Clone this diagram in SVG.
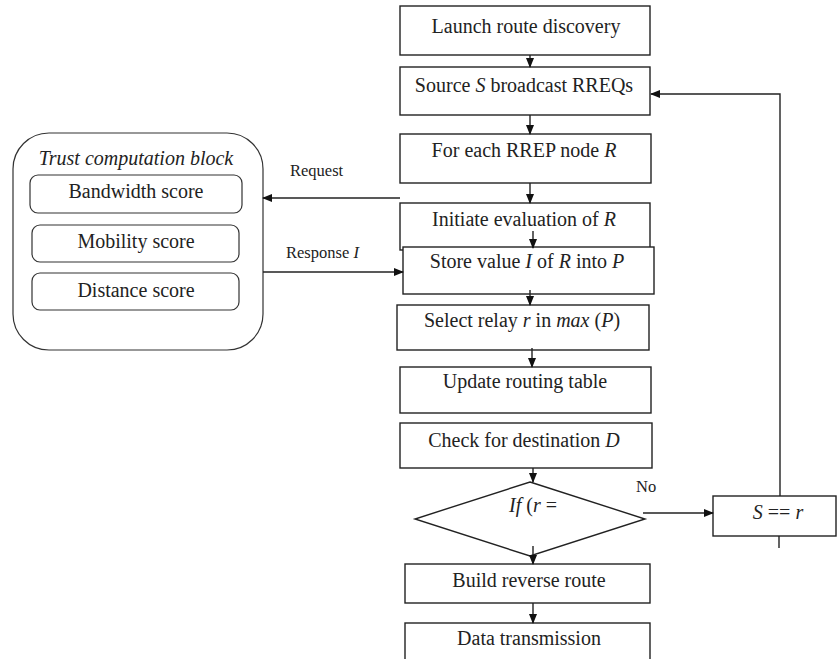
<svg xmlns="http://www.w3.org/2000/svg" width="837" height="659" viewBox="0 0 837 659">
<style>
.b{fill:#fff;stroke:#222;stroke-width:1.4}
.r{fill:#fff;stroke:#333;stroke-width:1.2}
.t{font-family:"Liberation Serif",serif;font-size:20px;fill:#222;text-anchor:middle}
.s{font-family:"Liberation Serif",serif;font-size:16.5px;fill:#222}
.i{font-style:italic}
.c{fill:none;stroke:#222;stroke-width:1.4}
</style>
<defs>
<marker id="a" markerWidth="10" markerHeight="10" refX="9" refY="5" orient="auto" markerUnits="userSpaceOnUse">
<path d="M0,1 L10,5 L0,9 Z" fill="#111"/>
</marker>
</defs>
<rect width="837" height="659" fill="#fff"/>
<g id="trust-block">
<rect class="r" x="13" y="133" width="250" height="217" rx="36"/>
<text class="t i" x="136" y="165">Trust computation block</text>
</g>
<g id="bandwidth"><rect class="r" x="30" y="175" width="212" height="38" rx="8"/><text class="t" x="136" y="198">Bandwidth score</text></g>
<g id="mobility"><rect class="r" x="32" y="225" width="207" height="37" rx="8"/><text class="t" x="136" y="248">Mobility score</text></g>
<g id="distance"><rect class="r" x="32" y="273" width="207" height="37" rx="8"/><text class="t" x="136" y="297">Distance score</text></g>

<g id="launch"><rect class="b" x="400" y="6" width="250" height="49"/><text class="t" x="526" y="33">Launch route discovery</text></g>
<g id="source"><rect class="b" x="400" y="67" width="250" height="48"/><text class="t" x="524" y="92">Source <tspan class="i">S</tspan> broadcast RREQs</text></g>
<g id="foreach"><rect class="b" x="400" y="134" width="251" height="49"/><text class="t" x="524" y="157">For each RREP node <tspan class="i">R</tspan></text></g>
<g id="initiate"><rect class="b" x="400" y="203" width="250" height="47"/><text class="t" x="524" y="226">Initiate evaluation of <tspan class="i">R</tspan></text></g>
<g id="store"><rect class="b" x="403" y="247" width="251" height="47"/><text class="t" x="527" y="268">Store value <tspan class="i">I</tspan> of <tspan class="i">R</tspan> into <tspan class="i">P</tspan></text></g>
<g id="select"><rect class="b" x="397" y="305" width="252" height="45"/><text class="t" x="522" y="327">Select relay <tspan class="i">r</tspan> in <tspan class="i">max</tspan> (<tspan class="i">P</tspan>)</text></g>
<g id="update"><rect class="b" x="400" y="367" width="251" height="46"/><text class="t" x="525" y="388">Update routing table</text></g>
<g id="check"><rect class="b" x="400" y="423" width="252" height="45"/><text class="t" x="524" y="447">Check for destination <tspan class="i">D</tspan></text></g>
<g id="decision"><polygon class="b" points="530,482 645,519 530,556 415,519"/><text class="t" x="533" y="512"><tspan class="i">If</tspan> (<tspan class="i">r</tspan> =</text></g>
<g id="build"><rect class="b" x="405" y="564" width="245" height="39"/><text class="t" x="529" y="587">Build reverse route</text></g>
<g id="data"><rect class="b" x="405" y="623" width="245" height="40"/><text class="t" x="529" y="645">Data transmission</text></g>
<g id="s-eq-r"><rect class="b" x="713" y="496" width="123" height="40"/><text class="t" x="778" y="519"><tspan class="i">S</tspan> == <tspan class="i">r</tspan></text></g>

<g id="connectors">
<line class="c" x1="530" y1="55" x2="530" y2="67" marker-end="url(#a)"/>
<line class="c" x1="530" y1="115" x2="530" y2="134" marker-end="url(#a)"/>
<line class="c" x1="530" y1="183" x2="530" y2="203" marker-end="url(#a)"/>
<line class="c" x1="533" y1="231" x2="533" y2="248" marker-end="url(#a)"/>
<line class="c" x1="530" y1="290" x2="530" y2="305" marker-end="url(#a)"/>
<line class="c" x1="532" y1="348" x2="532" y2="367" marker-end="url(#a)"/>
<line class="c" x1="533" y1="468" x2="533" y2="482" marker-end="url(#a)"/>
<line class="c" x1="533" y1="546" x2="533" y2="564" marker-end="url(#a)"/>
<line class="c" x1="533" y1="603" x2="533" y2="623" marker-end="url(#a)"/>
<line class="c" x1="400" y1="198" x2="263" y2="198" marker-end="url(#a)"/>
<line class="c" x1="263" y1="272" x2="403" y2="272" marker-end="url(#a)"/>
<line class="c" x1="643" y1="513" x2="713" y2="513" marker-end="url(#a)"/>
<polyline class="c" points="780,496 780,94 651,94" marker-end="url(#a)"/>
<line class="c" x1="779" y1="536" x2="779" y2="548"/>
<text class="s" x="290" y="176">Request</text>
<text class="s" x="286" y="258">Response <tspan class="i">I</tspan></text>
<text class="s" x="636" y="492">No</text>
</g>
</svg>
